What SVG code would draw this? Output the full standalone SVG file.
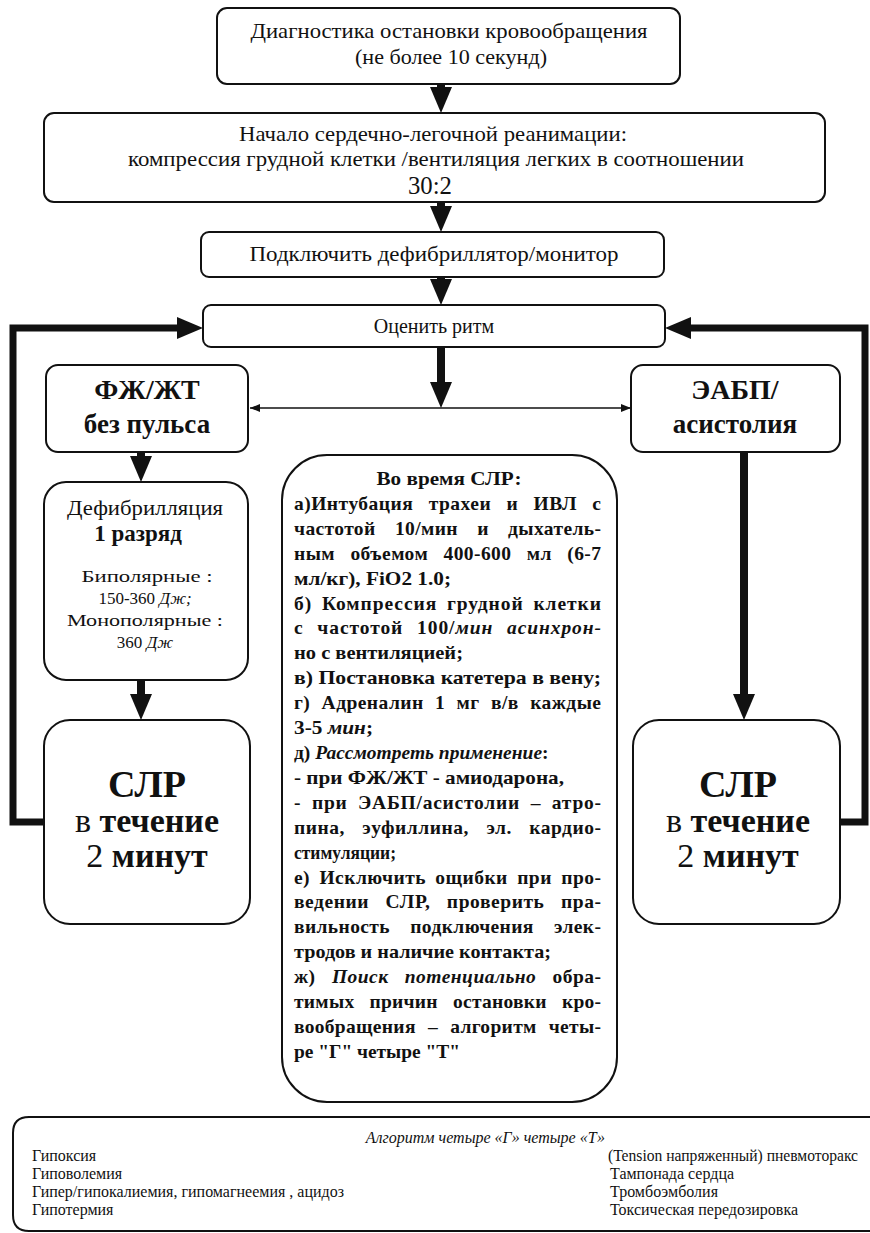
<svg xmlns="http://www.w3.org/2000/svg" width="870" height="1233" viewBox="0 0 870 1233">
<style>
.box{fill:#fff;stroke:#111;stroke-width:2}
.t{font-family:"Liberation Serif","DejaVu Serif",serif;fill:#111}
.top{font-size:22px;text-anchor:middle}
.c{font-size:19.5px;font-weight:bold}
.big{font-weight:bold;text-anchor:middle}
.sm{font-size:16px}
.thick{fill:none;stroke:#111;stroke-width:8}
.loop{fill:none;stroke:#111;stroke-width:7}
.thin{fill:none;stroke:#111;stroke-width:1.6}
</style>
<defs>
<marker id="ah" viewBox="0 0 26 22" refX="4" refY="11" markerWidth="26" markerHeight="22" markerUnits="userSpaceOnUse" orient="auto">
<path d="M0,0 L26,11 L0,22 Z" fill="#111"/>
</marker>
<marker id="sa" viewBox="0 0 10 8" refX="10" refY="4" markerWidth="10" markerHeight="8" markerUnits="userSpaceOnUse" orient="auto-start-reverse">
<path d="M0,0 L10,4 L0,8 Z" fill="#111"/>
</marker>
</defs>
<rect width="870" height="1233" fill="#fff"/>

<g id="connectors">
<line class="thick" x1="441" y1="84" x2="441" y2="91" marker-end="url(#ah)"/>
<line class="thick" x1="441" y1="202" x2="441" y2="210" marker-end="url(#ah)"/>
<line class="thick" x1="441" y1="277" x2="441" y2="283" marker-end="url(#ah)"/>
<line class="thick" x1="441" y1="347" x2="441" y2="386" marker-end="url(#ah)"/>
<line class="thin" x1="250" y1="408" x2="631" y2="408" marker-start="url(#sa)" marker-end="url(#sa)"/>
<line class="thick" x1="141" y1="452" x2="141" y2="460" marker-end="url(#ah)"/>
<line class="thick" x1="141" y1="680" x2="141" y2="698" marker-end="url(#ah)"/>
<line class="thick" x1="744" y1="452" x2="744" y2="698" marker-end="url(#ah)"/>
<path class="loop" d="M44,822 H13 V328 H181" marker-end="url(#ah)"/>
<path class="loop" d="M840,822 H865 V328 H687" marker-end="url(#ah)"/>
</g>

<g id="n1">
<rect class="box" x="217" y="8" width="463" height="76" rx="10"/>
<text class="t top" x="449" y="38" textLength="397" lengthAdjust="spacingAndGlyphs">Диагностика остановки кровообращения</text>
<text class="t top" x="451" y="64" textLength="192" lengthAdjust="spacingAndGlyphs">(не более 10 секунд)</text>
</g>

<g id="n2">
<rect class="box" x="44" y="113" width="781" height="89" rx="10"/>
<text class="t top" x="433" y="141" textLength="388" lengthAdjust="spacingAndGlyphs">Начало сердечно-легочной реанимации:</text>
<text class="t top" x="436" y="166" textLength="616" lengthAdjust="spacingAndGlyphs">компрессия грудной клетки /вентиляция легких в соотношении</text>
<text class="t top" x="430" y="194" style="font-size:25px" textLength="44" lengthAdjust="spacingAndGlyphs">30:2</text>
</g>

<g id="n3">
<rect class="box" x="201" y="232" width="463" height="45" rx="8"/>
<text class="t top" x="434" y="261" textLength="369" lengthAdjust="spacingAndGlyphs">Подключить дефибриллятор/монитор</text>
</g>

<g id="n4">
<rect class="box" x="203" y="305" width="462" height="42" rx="8"/>
<text class="t" x="434" y="333" style="font-size:20px;text-anchor:middle">Оценить ритм</text>
</g>

<g id="n5">
<rect class="box" x="46" y="365" width="202" height="87" rx="12"/>
<text class="t big" x="147" y="399" style="font-size:28px">ФЖ/ЖТ</text>
<text class="t big" x="147" y="433" style="font-size:27px">без пульса</text>
</g>

<g id="n6">
<rect class="box" x="631" y="365" width="209" height="87" rx="12"/>
<text class="t big" x="735" y="399" style="font-size:28px">ЭАБП/</text>
<text class="t big" x="735" y="433" style="font-size:27px">асистолия</text>
</g>

<g id="n7">
<rect class="box" x="44" y="482" width="204" height="198" rx="22"/>
<text class="t" x="145" y="515" style="font-size:20px;text-anchor:middle" textLength="156" lengthAdjust="spacingAndGlyphs">Дефибрилляция</text>
<text class="t big" x="138" y="541" style="font-size:23px">1 разряд</text>
<text class="t" x="147" y="582" style="font-size:17px;text-anchor:middle" textLength="131" lengthAdjust="spacingAndGlyphs">Биполярные :</text>
<text class="t" x="145" y="604" style="font-size:17px;text-anchor:middle">150-360 <tspan font-style="italic">Дж;</tspan></text>
<text class="t" x="145" y="626" style="font-size:17px;text-anchor:middle" textLength="156" lengthAdjust="spacingAndGlyphs">Монополярные :</text>
<text class="t" x="145" y="648" style="font-size:17px;text-anchor:middle">360 <tspan font-style="italic">Дж</tspan></text>
</g>

<g id="n8">
<rect class="box" x="44" y="720" width="206" height="204" rx="26"/>
<text class="t big" x="147" y="797" style="font-size:38px">СЛР</text>
<text class="t big" x="147" y="832" style="font-size:34px"><tspan font-weight="normal">в</tspan> течение</text>
<text class="t big" x="147" y="867" style="font-size:34px"><tspan font-weight="normal">2</tspan> минут</text>
</g>

<g id="n9">
<rect class="box" x="633" y="720" width="207" height="204" rx="26"/>
<text class="t big" x="738" y="797" style="font-size:38px">СЛР</text>
<text class="t big" x="738" y="832" style="font-size:34px"><tspan font-weight="normal">в</tspan> течение</text>
<text class="t big" x="738" y="867" style="font-size:34px"><tspan font-weight="normal">2</tspan> минут</text>
</g>

<g id="n10">
<rect class="box" x="282" y="455" width="335" height="647" rx="45"/>
<text class="t c" x="449" y="485" style="text-anchor:middle" textLength="145" lengthAdjust="spacingAndGlyphs">Во время СЛР:</text>
<text class="t c" x="294" y="510" word-spacing="10" textLength="307" lengthAdjust="spacing">а)Интубация трахеи и ИВЛ с</text>
<text class="t c" x="294" y="535" word-spacing="14" textLength="307" lengthAdjust="spacing">частотой 10/мин и дыхатель-</text>
<text class="t c" x="294" y="560" word-spacing="10" textLength="307" lengthAdjust="spacing">ным объемом 400-600 мл (6-7</text>
<text class="t c" x="294" y="585" textLength="157" lengthAdjust="spacingAndGlyphs">мл/кг), FiO2 1.0;</text>
<text class="t c" x="294" y="610" word-spacing="4" textLength="307" lengthAdjust="spacing">б) Компрессия грудной клетки</text>
<text class="t c" x="294" y="634" word-spacing="8" textLength="307" lengthAdjust="spacing">с частотой 100/<tspan font-style="italic">мин асинхрон-</tspan></text>
<text class="t c" x="294" y="659" textLength="169" lengthAdjust="spacingAndGlyphs">но с вентиляцией;</text>
<text class="t c" x="294" y="684" textLength="307" lengthAdjust="spacingAndGlyphs">в) Постановка катетера в вену;</text>
<text class="t c" x="294" y="709" word-spacing="6" textLength="307" lengthAdjust="spacing">г) Адреналин 1 мг в/в каждые</text>
<text class="t c" x="294" y="734" textLength="79" lengthAdjust="spacingAndGlyphs">3-5 <tspan font-style="italic">мин</tspan>;</text>
<text class="t c" x="294" y="759">д) <tspan font-style="italic">Рассмотреть применение</tspan>:</text>
<text class="t c" x="294" y="784" textLength="270" lengthAdjust="spacingAndGlyphs">- при ФЖ/ЖТ - амиодарона,</text>
<text class="t c" x="294" y="809" word-spacing="5" textLength="307" lengthAdjust="spacing">- при ЭАБП/асистолии – атро-</text>
<text class="t c" x="294" y="834" word-spacing="12" textLength="307" lengthAdjust="spacing">пина, эуфиллина, эл. кардио-</text>
<text class="t c" x="294" y="859" textLength="102" lengthAdjust="spacingAndGlyphs">стимуляции;</text>
<text class="t c" x="294" y="884" word-spacing="4" textLength="307" lengthAdjust="spacing">е) Исключить ощибки при про-</text>
<text class="t c" x="294" y="908" word-spacing="11" textLength="307" lengthAdjust="spacing">ведении СЛР, проверить пра-</text>
<text class="t c" x="294" y="933" word-spacing="15" textLength="307" lengthAdjust="spacing">вильность подключения элек-</text>
<text class="t c" x="294" y="958" textLength="257" lengthAdjust="spacingAndGlyphs">тродов и наличие контакта;</text>
<text class="t c" x="294" y="983" word-spacing="11" textLength="307" lengthAdjust="spacing">ж) <tspan font-style="italic">Поиск потенциально</tspan> обра-</text>
<text class="t c" x="294" y="1008" word-spacing="10" textLength="307" lengthAdjust="spacing">тимых причин остановки кро-</text>
<text class="t c" x="294" y="1033" word-spacing="7" textLength="307" lengthAdjust="spacing">вообращения – алгоритм четы-</text>
<text class="t c" x="294" y="1058" textLength="166" lengthAdjust="spacingAndGlyphs">ре "Г" четыре "Т"</text>
</g>

<g id="n11">
<path class="box" d="M13,1133 Q13,1117 29,1117 H880 V1231 H29 Q13,1231 13,1215 Z"/>
<text class="t sm" x="605" y="1143" font-style="italic" style="text-anchor:end">Алгоритм  четыре  «Г» четыре  «Т»</text>
<text class="t sm" x="32" y="1161">Гипоксия</text>
<text class="t sm" x="32" y="1179">Гиповолемия</text>
<text class="t sm" x="32" y="1197">Гипер/гипокалиемия, гипомагнеемия , ацидоз</text>
<text class="t sm" x="32" y="1215">Гипотермия</text>
<text class="t sm" x="608" y="1161" textLength="250" lengthAdjust="spacingAndGlyphs">(Tension напряженный) пневмоторакс</text>
<text class="t sm" x="610" y="1179">Тампонада сердца</text>
<text class="t sm" x="610" y="1197">Тромбоэмболия</text>
<text class="t sm" x="610" y="1215">Токсическая передозировка</text>
</g>
</svg>
